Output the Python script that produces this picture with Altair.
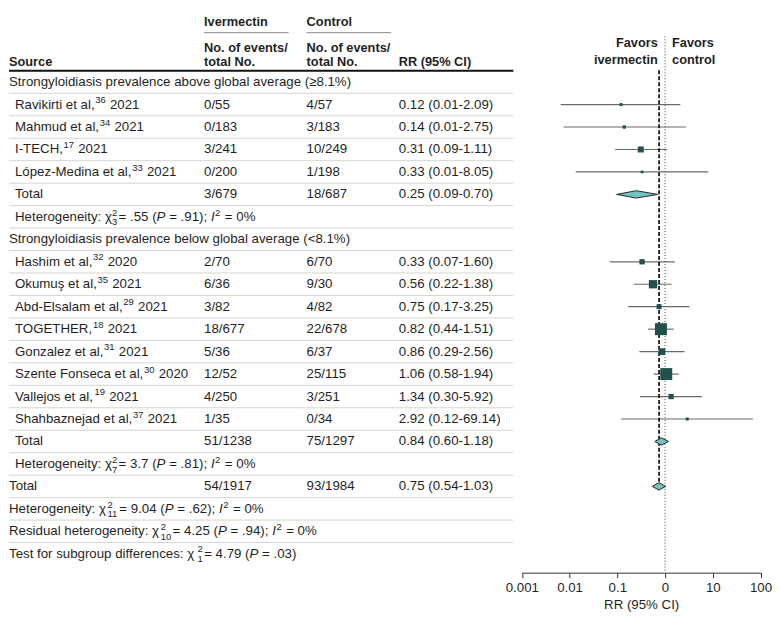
import json
import math
import altair as alt
import pandas as pd

FONT = "Liberation Sans"
FS = 13.3      # body text size
SS = 9.5       # sub/superscript size
HS = 12.8      # header text size
TXT = "#1f1f1f"

# ---------------- data ----------------
group_labels = ["Strongyloidiasis prevalence above global average (≥8.1%)",
                "Strongyloidiasis prevalence below global average (<8.1%)"]
group_rows = [0, 7]

study_rows = [1, 2, 3, 4, 8, 9, 10, 11, 12, 13, 14, 15]
study_names = ["Ravikirti et al,³⁶ 2021", "Mahmud et al,³⁴ 2021", "I-TECH,¹⁷ 2021",
               "López-Medina et al,³³ 2021", "Hashim et al,³² 2020", "Okumuş et al,³⁵ 2021",
               "Abd-Elsalam et al,²⁹ 2021", "TOGETHER,¹⁸ 2021", "Gonzalez et al,³¹ 2021",
               "Szente Fonseca et al,³⁰ 2020", "Vallejos et al,¹⁹ 2021", "Shahbaznejad et al,³⁷ 2021"]
iver_events = ["0/55", "0/183", "3/241", "0/200", "2/70", "6/36", "3/82", "18/677",
               "5/36", "12/52", "4/250", "1/35"]
ctrl_events = ["4/57", "3/183", "10/249", "1/198", "6/70", "9/30", "4/82", "22/678",
               "6/37", "25/115", "3/251", "0/34"]
rr_labels = ["0.12 (0.01-2.09)", "0.14 (0.01-2.75)", "0.31 (0.09-1.11)", "0.33 (0.01-8.05)",
             "0.33 (0.07-1.60)", "0.56 (0.22-1.38)", "0.75 (0.17-3.25)", "0.82 (0.44-1.51)",
             "0.86 (0.29-2.56)", "1.06 (0.58-1.94)", "1.34 (0.30-5.92)", "2.92 (0.12-69.14)"]
rr_est = [0.12, 0.14, 0.31, 0.33, 0.33, 0.56, 0.75, 0.82, 0.86, 1.06, 1.34, 2.92]
rr_low = [0.0065, 0.0075, 0.09, 0.0135, 0.07, 0.22, 0.17, 0.44, 0.29, 0.58, 0.30, 0.12]
rr_high = [2.09, 2.75, 1.11, 8.05, 1.60, 1.38, 3.25, 1.51, 2.56, 1.94, 5.92, 69.14]
weights = [1.6, 2.0, 6.5, 1.3, 5.0, 12.4, 4.5, 25.9, 8.1, 25.9, 5.0, 1.6]

pooled_rows = [5, 16, 18]
pooled_names = ["Total", "Total", "Total"]
pooled_indent = [True, True, False]
pooled_iver = ["3/679", "51/1238", "54/1917"]
pooled_ctrl = ["18/687", "75/1297", "93/1984"]
pooled_labels = ["0.25 (0.09-0.70)", "0.84 (0.60-1.18)", "0.75 (0.54-1.03)"]
pooled_est = [0.25, 0.84, 0.75]
pooled_low = [0.096, 0.61, 0.536]
pooled_high = [0.70, 1.18, 1.03]

# heterogeneity lines: (row, indented, segments)
het_lines = [
    (6, True, [("n", "Heterogeneity: χ"), ("stack", ("2", "3")), ("n", "= .55 ("), ("i", "P"),
               ("n", " = .91); "), ("i", "I"), ("sup", "2"), ("n", " = 0%")]),
    (17, True, [("n", "Heterogeneity: χ"), ("stack", ("2", "7")), ("n", "= 3.7 ("), ("i", "P"),
                ("n", " = .81); "), ("i", "I"), ("sup", "2"), ("n", " = 0%")]),
    (19, False, [("n", "Heterogeneity: χ"), ("gap", 1.5), ("stack", ("2", "11")), ("n", "= 9.04 ("),
                 ("i", "P"), ("n", " = .62); "), ("i", "I"), ("sup", "2"), ("n", " = 0%")]),
    (20, False, [("n", "Residual heterogeneity: χ"), ("gap", 1.5), ("stack", ("2", "10")),
                 ("n", "= 4.25 ("), ("i", "P"), ("n", " = .94); "), ("i", "I"), ("sup", "2"),
                 ("n", " = 0%")]),
    (21, False, [("n", "Test for subgroup differences: χ"), ("gap", 1.5), ("stack", ("2", "1")),
                 ("n", "= 4.79 ("), ("i", "P"), ("n", " = .03)")]),
]

tick_values = [0.001, 0.01, 0.1, 1, 10, 100]
tick_labels = ["0.001", "0.01", "0.1", "0", "10", "100"]
axis_title = "RR (95% CI)"
favors_left = ["Favors", "ivermectin"]
favors_right = ["Favors", "control"]

# ---------------- layout ----------------
W, H = 752, 565
Y0, DY = 73.8, 22.49            # chart px of row 0 centre and row pitch
N_ROWS = 22
X_RANGE = [513.5, 752.5]        # kept so the whole page stays within 780 px
COL_TOP, COL_IND, COL_IV, COL_CT, COL_RR = 0, 6, 195.3, 298, 390.3
SEP_X2 = 505


def r_of(py):
    return (py - Y0) / DY


def x_of(v):   # only used to place the "Favors" captions beside the reference lines
    lo, hi = math.log10(tick_values[0]), math.log10(tick_values[-1])
    return X_RANGE[0] + (math.log10(v) - lo) / (hi - lo) * (X_RANGE[1] - X_RANGE[0])


# Arial / Liberation Sans advance widths (1/1000 em)
AW = {' ': 278, '(': 333, ')': 333, '%': 889, '.': 278, ',': 278, '-': 333, '/': 278,
      ':': 278, ';': 278, '=': 584, '≥': 549, '<': 584, 'χ': 500, 'ş': 500}
for ch in "0123456789":
    AW[ch] = 556
AW.update(dict(zip("ABCDEFGHIJKLMNOPQRSTUVWXYZ",
                   [667, 667, 722, 722, 667, 611, 778, 722, 278, 500, 667, 556, 833, 722, 778,
                    667, 778, 722, 667, 611, 722, 667, 944, 667, 667, 611])))
AW.update(dict(zip("abcdefghijklmnopqrstuvwxyz",
                   [556, 556, 500, 556, 556, 278, 556, 556, 222, 222, 500, 222, 833, 556, 556,
                    556, 556, 333, 500, 278, 556, 500, 722, 500, 500, 500])))
SUPMAP = {"⁰": "0", "¹": "1", "²": "2", "³": "3", "⁴": "4", "⁵": "5", "⁶": "6",
          "⁷": "7", "⁸": "8", "⁹": "9"}


def tw(s, size):
    return sum(AW.get(c, 556) for c in s) * size / 1000.0


# ---------------- text table ----------------
recs = []


def add(row, px, text, style):
    recs.append({"row": row, "px": px, "text": text, "style": style})


def put(row, x, text, style, size):
    """place a segment (leading spaces become an x advance) and return new x"""
    lead = len(text) - len(text.lstrip(" "))
    x += lead * tw(" ", size)
    body = text.lstrip(" ")
    if body.strip():
        add(row, x, body, style)
    return x + tw(body, size)


def put_name(row, x, name):
    parts, cur, cur_sup = [], "", False
    for ch in name:
        is_sup = ch in SUPMAP
        if is_sup != cur_sup and cur:
            parts.append((cur_sup, cur))
            cur = ""
        cur_sup = is_sup
        cur += SUPMAP.get(ch, ch)
    parts.append((cur_sup, cur))
    for is_sup, txt in parts:
        if is_sup:
            x = put(row, x + 0.5, txt, "sup", SS) + 0.5
        else:
            x = put(row, x, txt, "n", FS)


for r, t in zip(group_rows, group_labels):
    add(r, COL_TOP, t, "n")
for r, nm, a, b, c in zip(study_rows, study_names, iver_events, ctrl_events, rr_labels):
    put_name(r, COL_IND, nm)
    add(r, COL_IV, a, "n")
    add(r, COL_CT, b, "n")
    add(r, COL_RR, c, "n")
for r, nm, ind, a, b, c in zip(pooled_rows, pooled_names, pooled_indent, pooled_iver,
                               pooled_ctrl, pooled_labels):
    add(r, COL_IND if ind else COL_TOP, nm, "n")
    add(r, COL_IV, a, "n")
    add(r, COL_CT, b, "n")
    add(r, COL_RR, c, "n")
for r, ind, segs in het_lines:
    x = COL_IND if ind else COL_TOP
    for kind, content in segs:
        if kind in ("n", "i"):
            x = put(r, x, content, kind, FS)
        elif kind == "gap":
            x += content
        elif kind == "stack":
            sp, sb = content
            add(r, x + 0.3, sp, "sup")
            add(r, x + 0.3, sb, "sub")
            x += max(tw(sp, SS), tw(sb, SS)) + 1.6
        elif kind == "sup":
            x = put(r, x + 0.5, content, "sup", SS) + 0.8

# headers
add(r_of(13.7), COL_IV, "Ivermectin", "b")
add(r_of(13.7), COL_CT, "Control", "b")
add(r_of(39.7), COL_IV, "No. of events/", "b")
add(r_of(39.7), COL_CT, "No. of events/", "b")
add(r_of(53.7), COL_IV, "total No.", "b")
add(r_of(53.7), COL_CT, "total No.", "b")
add(r_of(53.7), COL_TOP, "Source", "b")
add(r_of(53.7), COL_RR, "RR (95% CI)", "b")
x_dash = x_of(pooled_est[2])
x_null = x_of(1.0)
add(r_of(34.3), x_dash - 1.3, favors_left[0], "br")
add(r_of(52.0), x_dash - 1.3, favors_left[1], "br")
add(r_of(34.3), x_null + 7.0, favors_right[0], "b")
add(r_of(52.0), x_null + 7.0, favors_right[1], "b")

tdf = pd.DataFrame(recs)

yscale = alt.Scale(domain=[0, N_ROWS - 1], range=[Y0, Y0 + (N_ROWS - 1) * DY], nice=False, zero=False)
Y = lambda f: alt.Y(f, scale=yscale, axis=None)
PX = alt.X("px:Q", scale=None, axis=None)

base_t = alt.Chart(tdf)
style_props = {
    "n": dict(fontSize=FS),
    "i": dict(fontSize=FS, fontStyle="italic"),
    "sup": dict(fontSize=SS, dy=-4.3),
    "sub": dict(fontSize=SS, dy=5.6),
    "b": dict(fontSize=HS, fontWeight="bold"),
    "br": dict(fontSize=HS, fontWeight="bold", align="right"),
}
text_layers = []
for st, props in style_props.items():
    p = dict(align="left", baseline="middle", font=FONT, color=TXT)
    p.update(props)
    text_layers.append(
        base_t.transform_filter(alt.datum.style == st).mark_text(**p).encode(
            x=PX, y=Y("row:Q"), text="text:N"))

# separators
sep_df = pd.DataFrame({"row": [i + 0.5 for i in range(N_ROWS - 1)]})
seps = alt.Chart(sep_df).mark_rule(color="#d6d6cc", strokeWidth=1).encode(
    y=Y("row:Q"), x=alt.value(0), x2=alt.value(SEP_X2))
head_df = pd.DataFrame({"row": [-0.5]})
head_line = alt.Chart(head_df).mark_rule(color="#111111", strokeWidth=2).encode(
    y=Y("row:Q"), x=alt.value(0), x2=alt.value(SEP_X2))
ul_df = pd.DataFrame({"row": [r_of(24.3)] * 2, "x1": [195.3, 298.0], "x2": [280.0, 382.7]})
underlines = alt.Chart(ul_df).mark_rule(color="#8a8a8a", strokeWidth=1).encode(
    y=Y("row:Q"), x=alt.X("x1:Q", scale=None, axis=None), x2="x2:Q")

table = alt.layer(seps, head_line, underlines, *text_layers)

# ---------------- forest ----------------
label_expr = "%s[round(log(datum.value)/LN10)+3]" % json.dumps(tick_labels)
xaxis = alt.Axis(values=tick_values, labelExpr=label_expr, title=axis_title, grid=False,
                 tickSize=5, domainColor="#333333", tickColor="#333333", labelColor=TXT,
                 titleColor=TXT, labelFont=FONT, titleFont=FONT, labelFontSize=FS,
                 titleFontSize=FS, titleFontWeight="normal", labelPadding=3, titlePadding=4,
                 labelOverlap=False, labelFlush=False)
xscale = alt.Scale(type="log", domain=[tick_values[0], tick_values[-1]], range=X_RANGE, nice=False)
XF = lambda f: alt.X(f, scale=xscale, axis=xaxis)

sdf = pd.DataFrame({"row": study_rows, "est": rr_est, "lo": rr_low, "hi": rr_high, "w": weights})
ci = alt.Chart(sdf).mark_rule(color="#6a6a6a", strokeWidth=1.2).encode(
    x=XF("lo:Q"), x2="hi:Q", y=Y("row:Q"))
squares = alt.Chart(sdf).mark_square(color="#22504f", opacity=1).encode(
    x=XF("est:Q"), y=Y("row:Q"),
    size=alt.Size("w:Q", scale=alt.Scale(domain=[0, max(weights)], range=[0, 144]), legend=None))

HALF = 3.7 / DY
drecs = []
for k, (r, e, lo, hi) in enumerate(zip(pooled_rows, pooled_est, pooled_low, pooled_high)):
    drecs += [{"id": k, "x": lo, "top": r, "bot": r},
              {"id": k, "x": e, "top": r - HALF, "bot": r + HALF},
              {"id": k, "x": hi, "top": r, "bot": r}]
ddf = pd.DataFrame(drecs)
diamonds = alt.Chart(ddf).mark_area(fill="#74c3c1", stroke="#262626", strokeWidth=1,
                                    opacity=1, interpolate="linear").encode(
    x=XF("x:Q"), y=Y("top:Q"), y2="bot:Q", detail="id:N")

null_df = pd.DataFrame({"v": [1.0], "top": [r_of(28)]})
null_line = alt.Chart(null_df).mark_rule(color="#444444", strokeWidth=1, strokeDash=[1, 2]).encode(
    x=XF("v:Q"), y=Y("top:Q"), y2=alt.value(H))
ov_df = pd.DataFrame({"v": [pooled_est[2]], "top": [r_of(62)], "bot": [r_of(482)]})
ov_line = alt.Chart(ov_df).mark_rule(color="#000000", strokeWidth=1.6, strokeDash=[4, 2]).encode(
    x=XF("v:Q"), y=Y("top:Q"), y2="bot:Q")

forest = alt.layer(ci, null_line, ov_line, squares, diamonds)

chart = alt.layer(forest, table).resolve_scale(x="independent").properties(
    width=W, height=H, padding=0
).configure_view(stroke=None)

chart.save("out.html", embed_options={"renderer": "svg", "actions": False})
